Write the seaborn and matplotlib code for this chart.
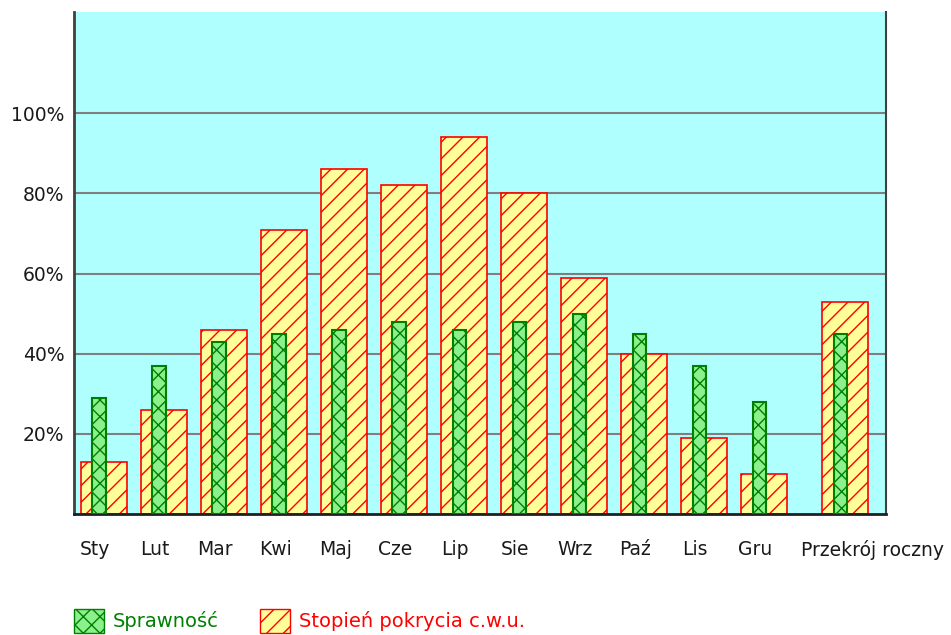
import matplotlib.pyplot as plt
import matplotlib.patches as mpatches
import matplotlib.transforms as mtransforms
import seaborn as sns

months = ["Sty", "Lut", "Mar", "Kwi", "Maj", "Cze", "Lip", "Sie", "Wrz", "Paź", "Lis", "Gru", "Przekrój roczny"]
pokrycie = [13, 26, 46, 71, 86, 82, 94, 80, 59, 40, 19, 10, 53]
sprawnosc = [29, 37, 43, 45, 46, 48, 46, 48, 50, 45, 37, 28, 45]

# slot positions, the yearly summary sits a bit further out
pos = [0, 1, 2, 3, 4, 5, 6, 7, 8, 9, 10, 11, 12.35]
pos_green = [p - 0.083 for p in pos]

sns.set_style("white")
plt.rcParams["font.family"] = ["DejaVu Sans"]
plt.rcParams["hatch.linewidth"] = 1.0

fig = plt.figure(figsize=(9.51, 6.35), dpi=100)
ax = fig.add_axes([74 / 951, 121 / 635, 812 / 951, 502 / 635])
ax.set_facecolor("#B0FFFF")

ax.set_axisbelow(True)
for v in [20, 40, 60, 80, 100]:
    ax.axhline(v, color="#7f7f7f", lw=1.5, zorder=0)

sns.barplot(x=pos, y=pokrycie, native_scale=True, width=0.77, ax=ax,
            color="#FFFF99", saturation=1, edgecolor="red", linewidth=1.2,
            hatch="//", zorder=2)
sns.barplot(x=pos_green, y=sprawnosc, native_scale=True, width=0.22, ax=ax,
            color="#8CF08C", saturation=1, edgecolor="#008000", linewidth=1.5,
            hatch="xx", zorder=3)

ax.set_xlim(-0.5, 13.03)
ax.set_ylim(0, 125.3)
ax.set_xticks(pos, months)
ax.set_yticks([20, 40, 60, 80, 100], ["20%", "40%", "60%", "80%", "100%"])
ax.tick_params(length=0, labelsize=13.5, colors="#1a1a1a", pad=7)
ax.tick_params(axis="x", pad=19)
ax.set_xlabel("")
ax.set_ylabel("")

# labels sit slightly left of the bars, the last one is pushed right
for i, lab in enumerate(ax.get_xticklabels()):
    dx = 27 if i == len(months) - 1 else -9
    lab.set_transform(lab.get_transform() + mtransforms.ScaledTranslation(dx / 100, 0, fig.dpi_scale_trans))

ax.spines["top"].set_visible(False)
ax.spines["left"].set_color("#404040")
ax.spines["left"].set_linewidth(2)
ax.spines["bottom"].set_color("#202020")
ax.spines["bottom"].set_linewidth(2)
ax.spines["right"].set_color("#404040")
ax.spines["right"].set_linewidth(1.5)

h1 = mpatches.Patch(facecolor="#8CF08C", edgecolor="#008000", hatch="xx", label="Sprawność")
h2 = mpatches.Patch(facecolor="#FFFF99", edgecolor="red", hatch="//", label="Stopień pokrycia c.w.u.")
fig.legend(handles=[h1, h2], loc="lower left", bbox_to_anchor=(74 / 951, 2 / 635),
           ncol=2, frameon=False, fontsize=14, handlelength=1.55, handleheight=1.55,
           columnspacing=2.1, handletextpad=0.46, borderpad=0, borderaxespad=0,
           labelcolor=["#008000", "red"])

fig.savefig("out.png", dpi=100)
